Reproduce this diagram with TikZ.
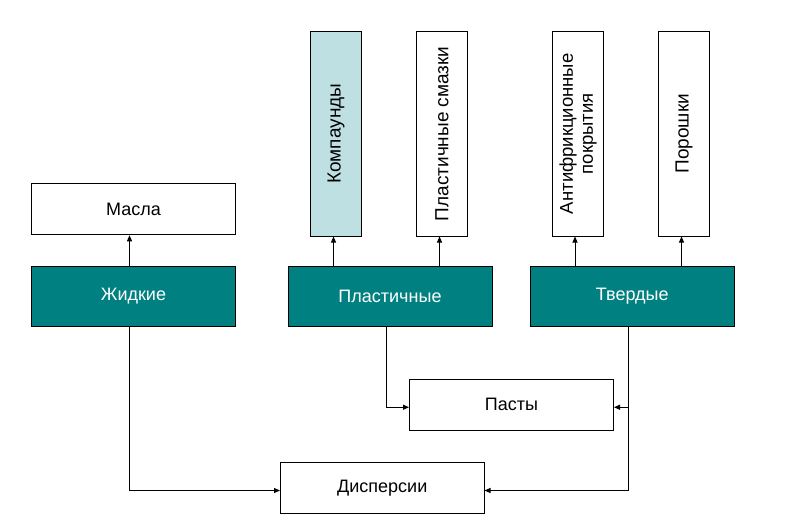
\documentclass[tikz,border=0pt]{standalone}
\usepackage{fontspec}
\setmainfont{Liberation Sans}
\usetikzlibrary{arrows.meta}
\definecolor{tealbox}{RGB}{0,128,128}
\definecolor{lightbox}{RGB}{190,224,226}
\begin{document}
\begin{tikzpicture}[x=1pt,y=-1pt,
  base/.style={draw=black,line width=1pt,inner sep=2pt,align=center,font=\fontsize{18}{21}\selectfont},
  hbox/.style={base,fill=white,minimum width=204pt,minimum height=51pt},
  cat/.style={base,fill=tealbox,text=white,minimum width=204pt,minimum height=59.5pt},
  vbox/.style={base,fill=white,minimum width=204.5pt,minimum height=51pt,rotate=90,font=\fontsize{19}{22}\selectfont},
  arr/.style={line width=1pt,-{Triangle[length=6pt,width=5pt]}}]
\useasboundingbox (0,0) rectangle (786,530);
\node[hbox] (masla) at (133.5,209.25) {Масла};
\node[cat] (zhid) at (133.5,296.25) {Жидкие};
\node[cat] (plast) at (390,296.25) {Пластичные};
\node[cat] (tverd) at (632.25,296.25) {Твердые};
\node[vbox,fill=lightbox] (komp) at (336,133.75) {Компаунды};
\node[vbox] (smaz) at (442,133.75) {Пластичные смазки};
\node[vbox,font=\fontsize{18.5}{20}\selectfont] (anti) at (578,133.75) {Антифрикционные\\покрытия};
\node[vbox] (posh) at (684,133.75) {Порошки};
\node[hbox,minimum height=50.5pt] (pasty) at (511.5,404.75) {Пасты};
\node[hbox,minimum width=203.5pt,minimum height=50.5pt] (disp) at (382.25,487.75) {Дисперсии};
% upward arrows
\draw[arr] ([xshift=-4pt]zhid.north) -- ([xshift=-4pt]masla.south);
\draw[arr] ([xshift=-2.5pt]komp.west |- plast.north) -- ([xshift=-2.5pt]komp.west);
\draw[arr] ([xshift=-2.5pt]smaz.west |- plast.north) -- ([xshift=-2.5pt]smaz.west);
\draw[arr] ([xshift=-3pt]anti.west |- tverd.north) -- ([xshift=-3pt]anti.west);
\draw[arr] ([xshift=-2.5pt]posh.west |- tverd.north) -- ([xshift=-2.5pt]posh.west);
% lower connectors
\draw[arr] ([xshift=-3.3pt]plast.south) |- ([yshift=-2.5pt]pasty.west);
\draw[arr] ([xshift=-3.5pt]tverd.south) |- ([yshift=-2.5pt]pasty.east);
\draw[arr] ([xshift=-3.5pt]tverd.south) |- ([yshift=-2.75pt]disp.east);
\draw[arr] ([xshift=-4.2pt]zhid.south) |- ([yshift=-2.75pt]disp.west);
\end{tikzpicture}
\end{document}
